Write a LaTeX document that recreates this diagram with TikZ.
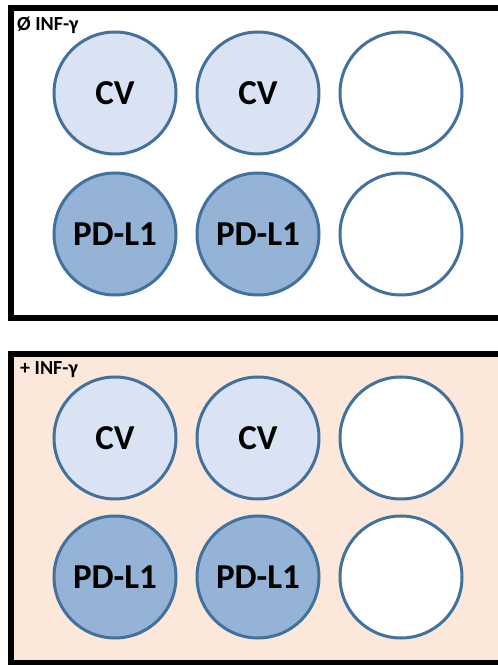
\documentclass[tikz,border=0pt]{standalone}
\usepackage{fontspec}
\setmainfont{Carlito}
\begin{document}
\begin{tikzpicture}[x=1pt,y=1pt,
  frame/.style={draw=black,line width=6.5pt},
  well/.style={circle,draw=wellline,line width=3pt,minimum size=122pt,inner sep=0pt,font=\bfseries\fontsize{35}{35}\selectfont},
  cv/.style={well,fill=cvfill},
  pd/.style={well,fill=pdfill},
  empty/.style={well,fill=white},
  tag/.style={anchor=base west,inner sep=0pt,font=\bfseries\fontsize{20}{20}\selectfont}]
\definecolor{wellline}{HTML}{41719C}
\definecolor{cvfill}{HTML}{DAE3F3}
\definecolor{pdfill}{HTML}{95B3D7}
\definecolor{peach}{HTML}{FCE8DA}
\useasboundingbox (0,0) rectangle (498,665);
\clip (0,0) rectangle (498,665);
% untreated plate
\draw[frame,fill=white] (11,657) rectangle (505,347);
\node[tag] (t1) at (17,634) {Ø INF-γ};
\node[cv] (a1) at (115,572) {CV};
\node[cv] (a2) at (258,572) {CV};
\node[empty] (a3) at (401,572) {};
\node[pd] (b1) at (115,431) {PD-L1};
\node[pd] (b2) at (258,431) {PD-L1};
\node[empty] (b3) at (401,431) {};
% treated plate
\draw[frame,fill=peach] (11,311) rectangle (505,2);
\node[tag] (t2) at (20,290) {+ INF-γ};
\node[cv] (c1) at (115,227) {CV};
\node[cv] (c2) at (258,227) {CV};
\node[empty] (c3) at (401,227) {};
\node[pd] (d1) at (115,88) {PD-L1};
\node[pd] (d2) at (258,88) {PD-L1};
\node[empty] (d3) at (401,88) {};
\end{tikzpicture}
\end{document}
